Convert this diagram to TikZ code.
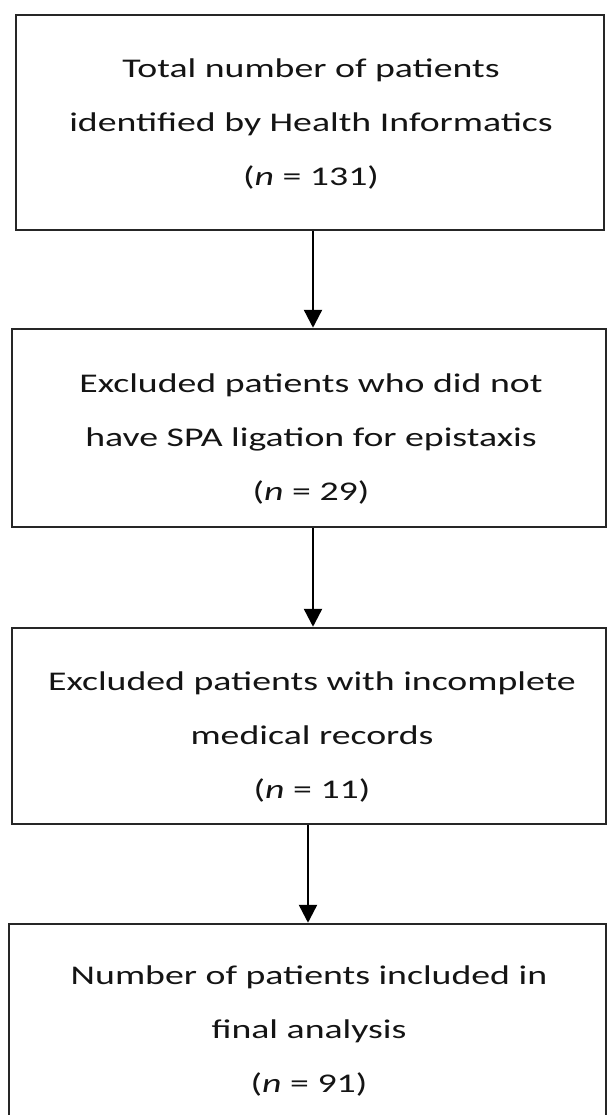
\documentclass[tikz,border=0pt]{standalone}
\usepackage{fontspec}
\setmainfont{Carlito}[FakeStretch=1.4]
\usetikzlibrary{arrows.meta}
\begin{document}
\begin{tikzpicture}[x=1pt,y=-1pt,
  box/.style={draw=black!85, line width=2.5pt, inner sep=0pt},
  txt/.style={align=center, inner sep=0pt, font=\fontsize{27}{54}\selectfont, text=black!92},
  arr/.style={draw=black, line width=2.4pt, -{Triangle[length=18pt,width=18pt]}}]
\useasboundingbox (0,0) rectangle (607,1115);
\clip (0,0) rectangle (607,1115);
\node[box, minimum width=588pt, minimum height=215pt] (b1) at (310,122.5) {};
\node[box, minimum width=594pt, minimum height=198pt] (b2) at (309,428) {};
\node[box, minimum width=594pt, minimum height=196pt] (b3) at (309,726) {};
\node[box, minimum width=597pt, minimum height=216pt] (b4) at (307.5,1032) {};
\node[txt] (t1) at (311,124) {Total number of patients\\identified by Health Informatics\\(\textit{n} = 131)};
\node[txt] (t2) at (311,439) {Excluded patients who did not\\have SPA ligation for epistaxis\\(\textit{n} = 29)};
\node[txt] (t3) at (312,737) {Excluded patients with incomplete\\medical records\\(\textit{n} = 11)};
\node[txt] (t4) at (309,1031) {Number of patients included in\\final analysis\\(\textit{n} = 91)};
\coordinate (xa) at (313,0);
\coordinate (xc) at (308,0);
\draw[arr] (b1.south -| xa) -- (b2.north -| xa);
\draw[arr] (b2.south -| xa) -- (b3.north -| xa);
\draw[arr] (b3.south -| xc) -- (b4.north -| xc);
\end{tikzpicture}
\end{document}
